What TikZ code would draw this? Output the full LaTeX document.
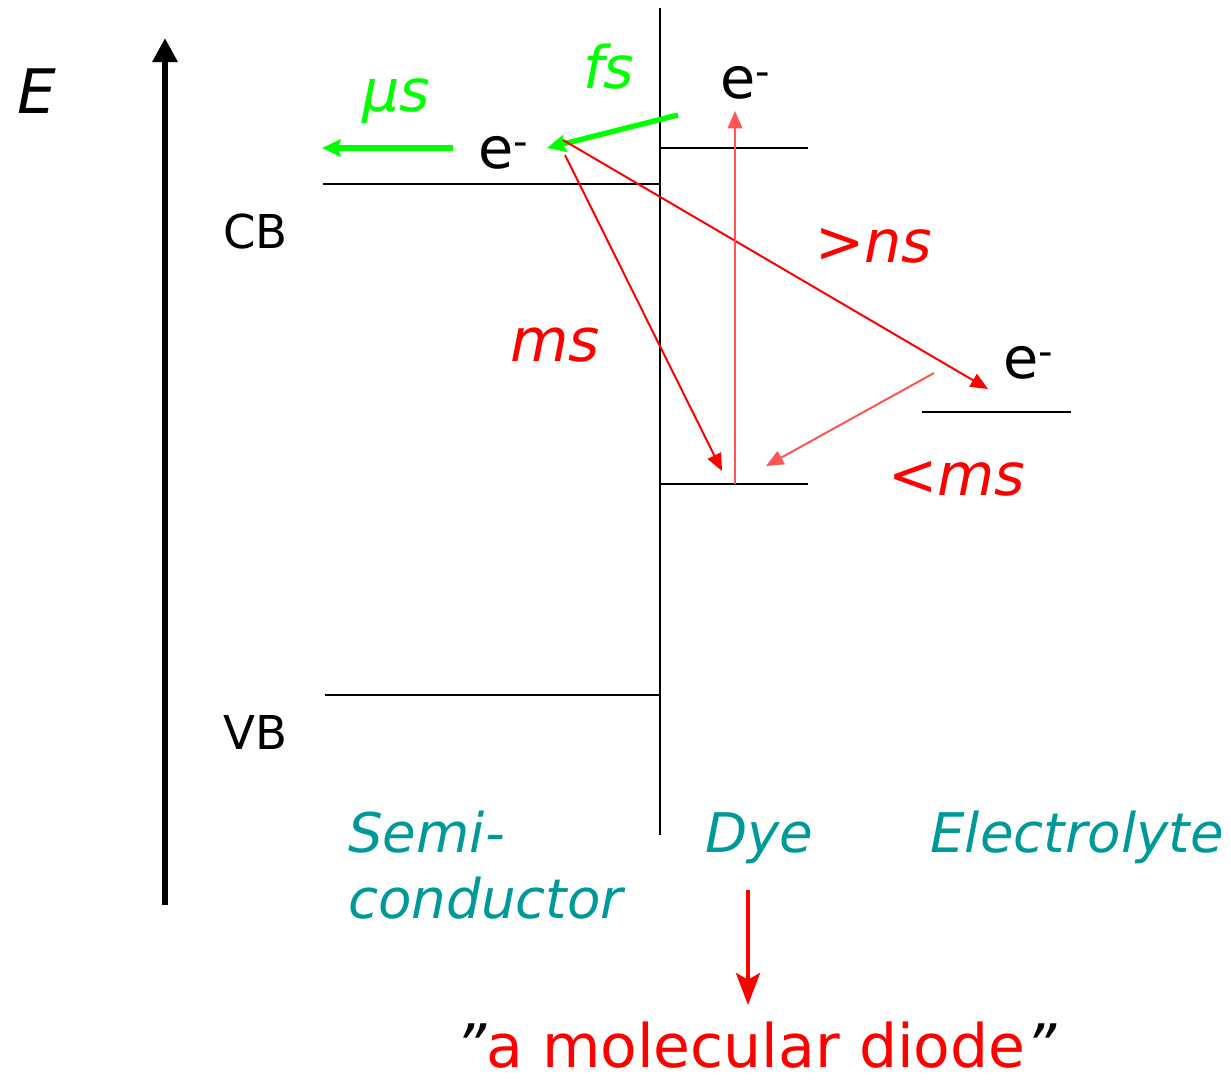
\documentclass[tikz,border=0pt]{standalone}
\usepackage{fontspec}
\setmainfont{DejaVu Sans}
\usetikzlibrary{arrows.meta}
\definecolor{brgreen}{RGB}{0,255,0}
\definecolor{myred}{RGB}{255,0,0}
\definecolor{lightred}{RGB}{255,85,85}
\definecolor{teal2}{RGB}{0,153,153}
\begin{document}
\begin{tikzpicture}[x=0.75pt,y=-0.75pt,
  txt/.style={inner sep=0pt,anchor=base west},
  level/.style={line width=1.5pt,black},
  redarr/.style={draw=myred,line width=1.5pt,-{Triangle[length=13pt,width=11pt]}},
  lredarr/.style={draw=lightred,line width=1.5pt,-{Triangle[length=13pt,width=11pt]}},
  grarr/.style={draw=brgreen,line width=4pt,-{Stealth[length=14pt,width=13pt,inset=2pt]}},
  lbl/.style={txt,teal2,font=\fontsize{41}{48}\selectfont\itshape},
  elec/.style={txt,font=\fontsize{43}{50}\selectfont},
  tm/.style={txt,myred,font=\fontsize{44}{50}\selectfont\itshape}]
\useasboundingbox (0,0) rectangle (1231,1083);
% energy axis
\coordinate (Ebot) at (165,905);
\coordinate (Etop) at (165,38);
\draw[line width=5pt,-{Triangle[length=18pt,width=18pt]}] (Ebot) -- (Etop);
\node[txt,font=\fontsize{46}{52}\selectfont\itshape] (E) at (17,113) {E};
% interface
\coordinate (Itop) at (660,8);
\coordinate (Ibot) at (660,835);
\draw[level] (Itop) -- (Ibot);
% levels
\coordinate (CBl) at (323,184); \coordinate (CBr) at (660,184);
\coordinate (VBl) at (325,695); \coordinate (VBr) at (660,695);
\coordinate (DUl) at (660,148); \coordinate (DUr) at (808,148);
\coordinate (DLl) at (660,484); \coordinate (DLr) at (808,484);
\coordinate (ELl) at (922,412); \coordinate (ELr) at (1071,412);
\draw[level] (CBl) -- (CBr);
\draw[level] (VBl) -- (VBr);
\draw[level] (DUl) -- (DUr);
\draw[level] (DLl) -- (DLr);
\draw[level] (ELl) -- (ELr);
\node[txt,font=\fontsize{35}{40}\selectfont] (CB) at (223,248) {CB};
\node[txt,font=\fontsize{35}{40}\selectfont] (VB) at (223,749) {VB};
% electrons
\node[elec] (e1) at (478,168) {e\textsuperscript{-}};
\node[elec] (e2) at (720,98) {e\textsuperscript{-}};
\node[elec] (e3) at (1003,378) {e\textsuperscript{-}};
% green arrows
\coordinate (mus1) at (453,148); \coordinate (mus2) at (322,148);
\draw[grarr] (mus1) -- (mus2);
\coordinate (fs1) at (678,115); \coordinate (fs2) at (547,148);
\draw[grarr] (fs1) -- (fs2);
\node[txt,brgreen,font=\fontsize{44}{50}\selectfont\itshape] (fs) at (583,88) {fs};
\node[txt,brgreen,font=\fontsize{44}{50}\selectfont\itshape] (mus) at (362,111) {μs};
% red arrows
\coordinate (ns1) at (563,140); \coordinate (ns2) at (988,389);
\draw[redarr] (ns1) -- (ns2);
\coordinate (ms1) at (565,155); \coordinate (ms2) at (722,471);
\draw[redarr] (ms1) -- (ms2);
\coordinate (ex1) at (735,484); \coordinate (ex2) at (735,111);
\draw[lredarr] (ex1) -- (ex2);
\coordinate (rg1) at (934,373); \coordinate (rg2) at (766,466);
\draw[lredarr] (rg1) -- (rg2);
\node[tm] (ns) at (815,262) {>ns};
\node[tm,font=\fontsize{45}{50}\selectfont\itshape] (ms) at (510,361) {ms};
\node[tm] (lms) at (888,495) {<ms};
% region labels
\node[lbl] (semi) at (348,852) {Semi-};
\node[lbl] (cond) at (348,918) {conductor};
\node[lbl] (dye) at (705,852) {Dye};
\node[lbl] (elyte) at (930,852) {Electrolyte};
% diode
\coordinate (d1) at (748,890); \coordinate (d2) at (748,1005);
\draw[myred,line width=3pt,-{Stealth[length=24pt,width=18pt,inset=5pt]}] (d1) -- (d2);
\node[txt,font=\fontsize{45}{52}\selectfont] (diode) at (455,1067) {{\itshape "}\textcolor{myred}{a molecular diode}{\itshape "}};
\end{tikzpicture}
\end{document}
